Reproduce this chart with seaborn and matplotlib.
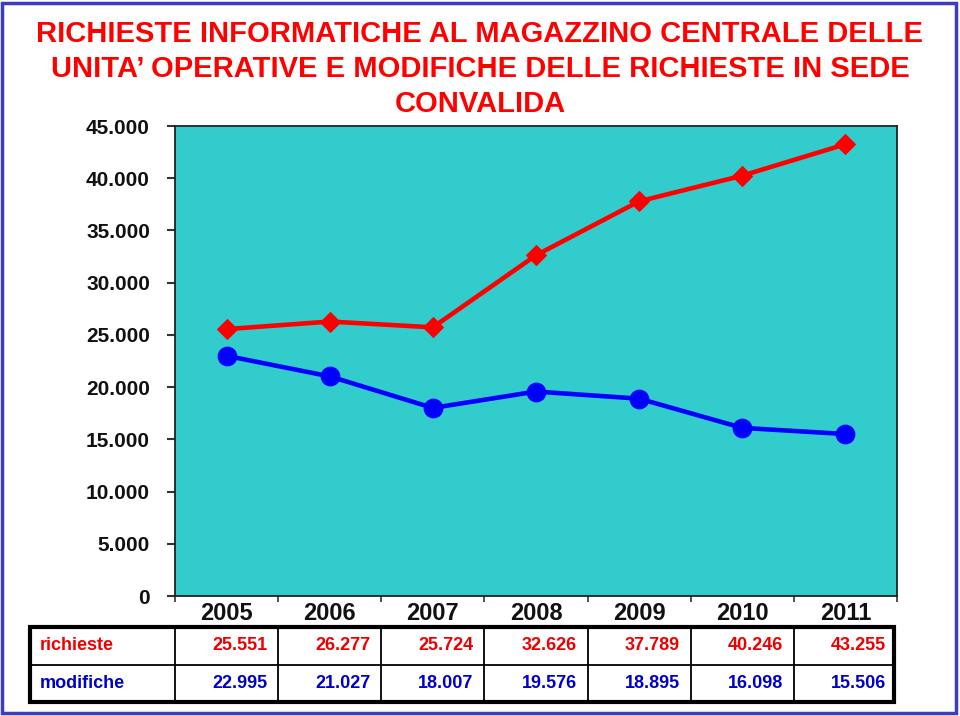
import matplotlib
matplotlib.use('Agg')
import matplotlib.pyplot as plt
import seaborn as sns
import numpy as np
import pandas as pd
from matplotlib.patches import Rectangle

years = ['2005', '2006', '2007', '2008', '2009', '2010', '2011']
richieste = [25551, 26277, 25724, 32626, 37789, 40246, 43255]
modifiche = [22995, 21027, 18007, 19576, 18895, 16098, 15506]
row_labels = ['richieste', 'modifiche']
yticks = [0, 5000, 10000, 15000, 20000, 25000, 30000, 35000, 40000, 45000]
ytick_labels = ['0', '5.000', '10.000', '15.000', '20.000', '25.000',
                '30.000', '35.000', '40.000', '45.000']
title = ("RICHIESTE INFORMATICHE AL MAGAZZINO CENTRALE DELLE\n"
         "UNITA\u2019 OPERATIVE E MODIFICHE DELLE RICHIESTE IN SEDE\n"
         "CONVALIDA")

sns.set_theme(style='white')
plt.rcParams['font.family'] = ['Liberation Sans', 'DejaVu Sans']

W, H = 960, 716
fig = plt.figure(figsize=(9.6, 7.16), dpi=100)
fig.patch.set_facecolor('white')

# main plot axes
ax = fig.add_axes([175 / W, 120 / H, 722 / W, 470 / H])
ax.set_facecolor('#33CCCC')
x = np.arange(len(years))
df = pd.DataFrame({'x': x, 'richieste': richieste, 'modifiche': modifiche})
sns.lineplot(data=df, x='x', y='richieste', ax=ax, color='#FF0000', lw=3.3,
             marker='D', markersize=10, markeredgecolor='#FF0000', zorder=3)
sns.lineplot(data=df, x='x', y='modifiche', ax=ax, color='#0000FF', lw=3.3,
             marker='o', markersize=13.5, markeredgecolor='#0000FF', zorder=3)
ax.set_xlim(-0.5, len(years) - 0.5)
ax.set_ylim(0, 45000)
ax.set_xlabel('')
ax.set_ylabel('')
ax.set_yticks(yticks)
ax.set_yticklabels(ytick_labels, fontsize=15, fontweight='bold', color='#111111')
ax.set_xticks(x)
ax.set_xticklabels(years, fontsize=17, fontweight='bold', color='#111111')
ax.set_xticks(np.arange(len(years) + 1) - 0.5, minor=True)
ax.tick_params(axis='x', which='major', length=0, pad=4)
ax.tick_params(axis='x', which='minor', length=4.5, width=1.2, direction='out',
               color='#333333', bottom=True)
ax.tick_params(axis='y', which='major', length=6, width=1.5, direction='out',
               color='#333333', left=True, pad=12)
for s in ax.spines.values():
    s.set_visible(True)
    s.set_color('#222222')
    s.set_linewidth(1.3)
ax.grid(False)

# data table
tax = fig.add_axes([30 / W, 14 / H, 864 / W, 75 / H])
px = 722 / 7.0
x0 = -0.5 - (175 - 30) / px
x1 = -0.5 + (894 - 175) / px
tax.set_xlim(x0, x1)
tax.set_ylim(0, 2)
tax.axis('off')
tax.add_patch(Rectangle((x0, 0), x1 - x0, 2, fill=False, ec='black', lw=3,
                        clip_on=False, zorder=5))
tax.vlines(np.arange(len(years)) - 0.5, 0, 2, colors='black', lw=1.3)
tax.hlines(1, x0, x1, colors='black', lw=1.3)
rows = [richieste, modifiche]
cols = ['#EE0000', '#0000CC']
for r, (lab, vals, c) in enumerate(zip(row_labels, rows, cols)):
    yc = 1.5 - r
    tax.text(x0 + 10 / px, yc, lab, ha='left', va='center', color=c,
             fontsize=13, fontweight='bold')
    for i, v in enumerate(vals):
        tax.text(i + 0.5 - 11 / px, yc, f"{v:,}".replace(',', '.'),
                 ha='right', va='center', color=c, fontsize=13,
                 fontweight='bold')

# title
fig.text(0.5, 1 - 69 / H, title, ha='center', va='center', color='#FF0000',
         fontsize=21, fontweight='bold', linespacing=1.3,
         family=['Liberation Sans Narrow', 'Liberation Sans', 'DejaVu Sans'])

# figure border
fig.patches.append(Rectangle((2 / W, 3 / H), 954 / W, 710 / H,
                             transform=fig.transFigure, fill=False,
                             ec='#3B3BC4', lw=2.5))

fig.savefig('out.png', dpi=100)
